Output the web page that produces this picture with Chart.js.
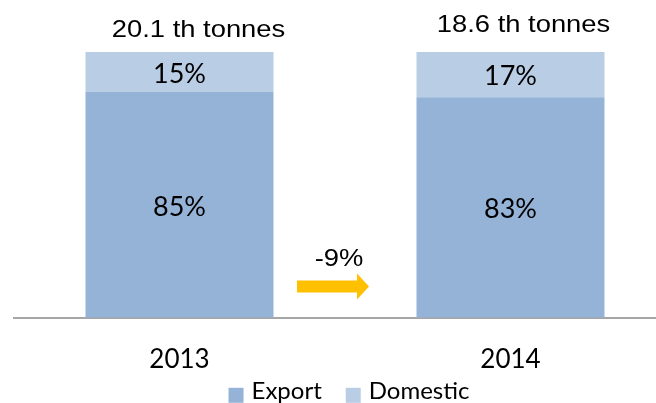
<!DOCTYPE html>
<html>
<head>
<meta charset="utf-8">
<script src="https://cdn.jsdelivr.net/npm/chart.js@4"></script>
<style>
  html, body { margin: 0; padding: 0; background: #fff; overflow: hidden; }
  #wrap { position: relative; width: 680px; height: 403px; }
</style>
</head>
<body>
<div id="wrap"><canvas id="volumeChart"></canvas></div>
<script>
// datos
const years = ['2013', '2014'];
const exportShare = [85, 83];
const domesticShare = [15, 17];
const totals = ['20.1 th tonnes', '18.6 th tonnes'];
const changeLabel = '-9%';

// texto ensanchado horizontalmente (como en la imagen original)
function wideText(ctx, txt, x, y, sx) {
    ctx.save();
    ctx.translate(x, y);
    ctx.scale(sx, 1);
    ctx.fillText(txt, 0, 0);
    ctx.restore();
}

// etiquetas dentro de las barras, totales arriba, flecha y leyenda
const labelsPlugin = {
    id: 'labelsPlugin',
    afterDatasetsDraw(chart) {
        const ctx = chart.ctx;
        ctx.save();
        ctx.textAlign = 'center';
        ctx.textBaseline = 'middle';
        ctx.fillStyle = '#000';
        ctx.font = '27px Lato, "Open Sans", sans-serif';
        chart.data.datasets.forEach((ds, i) => {
            chart.getDatasetMeta(i).data.forEach((bar, j) => {
                const mid = (bar.y + bar.base) / 2 + 2;
                ctx.fillText(ds.data[j] + '%', bar.x, mid);
            });
        });
        // totales
        ctx.font = '24px "Liberation Sans", Arial, sans-serif';
        const top = chart.getDatasetMeta(1).data;
        wideText(ctx, totals[0], top[0].x + 19, top[0].y - 22, 1.14);
        wideText(ctx, totals[1], top[1].x + 13, top[1].y - 27, 1.14);
        // flecha
        const xs = chart.scales.x;
        const ys = chart.scales.y;
        const midX = (xs.getPixelForValue(0) + xs.getPixelForValue(1)) / 2;
        const ay = ys.getPixelForValue(11.8);
        ctx.fillStyle = '#FFC000';
        ctx.beginPath();
        ctx.moveTo(midX - 48, ay - 6);
        ctx.lineTo(midX + 12, ay - 6);
        ctx.lineTo(midX + 12, ay - 13);
        ctx.lineTo(midX + 24, ay);
        ctx.lineTo(midX + 12, ay + 13);
        ctx.lineTo(midX + 12, ay + 6);
        ctx.lineTo(midX - 48, ay + 6);
        ctx.closePath();
        ctx.fill();
        ctx.fillStyle = '#000';
        wideText(ctx, changeLabel, midX - 6, ay - 27, 1.14);

        // leyenda
        ctx.font = '24px Lato, "Open Sans", sans-serif';
        ctx.textAlign = 'left';
        const box = 15, gapBox = 8, gapItem = 24;
        const items = chart.data.datasets.map(ds => ({
            text: ds.label, color: ds.backgroundColor, w: ctx.measureText(ds.label).width
        }));
        let total = 0;
        items.forEach((it, k) => { total += box + gapBox + it.w + (k ? gapItem : 0); });
        let lx = (chart.chartArea.left + chart.chartArea.right) / 2 + 4 - total / 2;
        const ly = chart.chartArea.bottom + 73;
        items.forEach(it => {
            ctx.fillStyle = it.color;
            ctx.fillRect(lx, ly - 3, box, box);
            ctx.fillStyle = '#000';
            ctx.fillText(it.text, lx + box + gapBox, ly);
            lx += box + gapBox + it.w + gapItem;
        });
        ctx.restore();
    }
};

const ctx = document.getElementById('volumeChart').getContext('2d');
new Chart(ctx, {
    type: 'bar',
    data: {
        labels: years,
        datasets: [
            {
                label: 'Export',
                data: exportShare,
                backgroundColor: '#95B3D7',
                borderWidth: 0
            },
            {
                label: 'Domestic',
                data: domesticShare,
                backgroundColor: '#B9CDE5',
                borderWidth: 0
            }
        ]
    },
    options: {
        responsive: true,
        maintainAspectRatio: false,
        animation: false,
        layout: { padding: { left: 14, right: 4, top: 52, bottom: 10 } },
        datasets: { bar: { barPercentage: 1, categoryPercentage: 0.568 } },
        scales: {
            x: {
                stacked: true,
                grid: { display: false },
                border: { display: true, color: '#A6A6A6', width: 2 },
                ticks: {
                    color: '#000',
                    padding: 18,
                    font: { family: 'Lato, "Open Sans", sans-serif', size: 26 }
                }
            },
            y: {
                stacked: true,
                display: false,
                min: 0,
                max: 100
            }
        },
        plugins: {
            legend: { display: false },
            tooltip: { enabled: false }
        }
    },
    plugins: [labelsPlugin]
});
</script>
</body>
</html>
